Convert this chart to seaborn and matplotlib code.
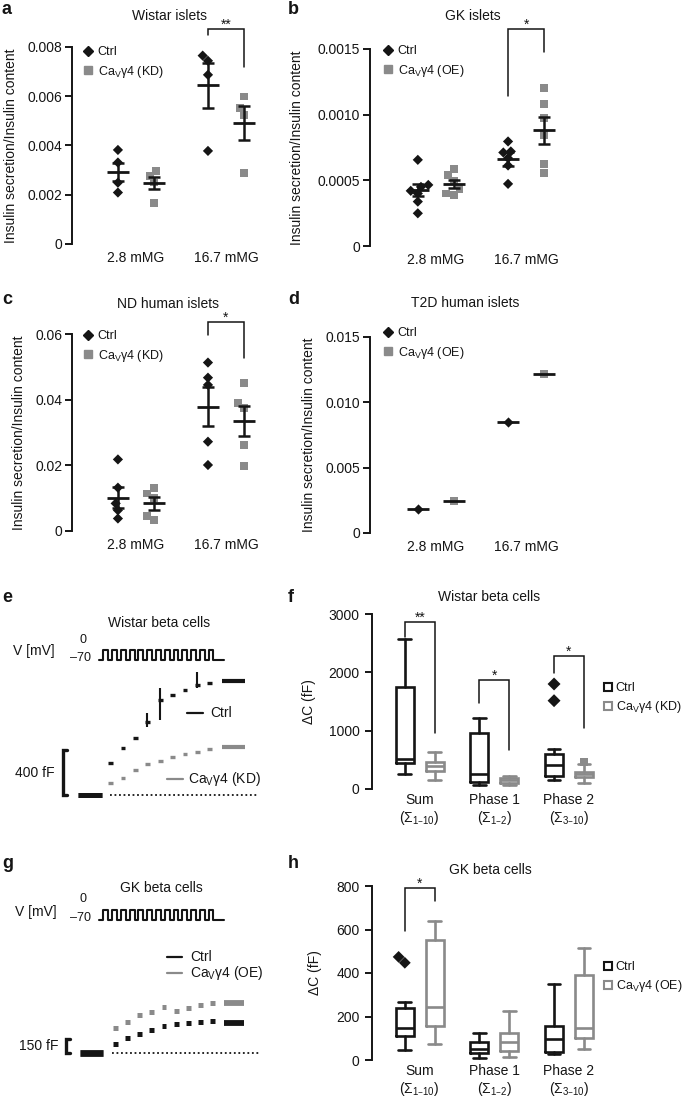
import numpy as np
import pandas as pd
import matplotlib
matplotlib.use('Agg')
import matplotlib.pyplot as plt
import seaborn as sns
from matplotlib.lines import Line2D

W, H = 685, 1101
BLACK = '#151515'
GRAY = '#8a8a8a'

# ---------------- data ----------------
glucose = ['2.8 mMG', '16.7 mMG']
groups = ['Ctrl', 'Ca']

# a: Wistar islets (Ctrl vs KD)
a_ctrl_low = [3.82e-3, 3.31e-3, 2.49e-3, 2.09e-3]
a_ctrl_high = [7.44e-3, 7.65e-3, 6.87e-3, 3.78e-3]
a_ca_low = [2.98e-3, 2.77e-3, 2.50e-3, 1.65e-3]
a_ca_high = [5.99e-3, 5.52e-3, 5.25e-3, 2.87e-3]
a_ctrl_mean, a_ctrl_sem = [2.93e-3, 6.44e-3], [0.37e-3, 0.90e-3]
a_ca_mean, a_ca_sem = [2.48e-3, 4.91e-3], [0.26e-3, 0.68e-3]

# b: GK islets (Ctrl vs OE)
b_ctrl_low = [0.656e-3, 0.465e-3, 0.45e-3, 0.42e-3, 0.40e-3, 0.338e-3, 0.249e-3]
b_ctrl_high = [0.796e-3, 0.72e-3, 0.712e-3, 0.669e-3, 0.613e-3, 0.473e-3]
b_ca_low = [0.587e-3, 0.541e-3, 0.498e-3, 0.432e-3, 0.40e-3, 0.389e-3]
b_ca_high = [1.203e-3, 1.08e-3, 0.974e-3, 0.847e-3, 0.623e-3, 0.554e-3]
b_ctrl_mean, b_ctrl_sem = [0.427e-3, 0.661e-3], [0.045e-3, 0.051e-3]
b_ca_mean, b_ca_sem = [0.473e-3, 0.880e-3], [0.032e-3, 0.105e-3]

# c: ND human islets (Ctrl vs KD)
c_ctrl_low = [0.0218, 0.0132, 0.0084, 0.0063, 0.0038]
c_ctrl_high = [0.0513, 0.0467, 0.0445, 0.0272, 0.0201]
c_ca_low = [0.0132, 0.0114, 0.0100, 0.0045, 0.0033]
c_ca_high = [0.0450, 0.0389, 0.0374, 0.0262, 0.0198]
c_ctrl_mean, c_ctrl_sem = [0.0102, 0.0379], [0.0031, 0.0060]
c_ca_mean, c_ca_sem = [0.0084, 0.0335], [0.0020, 0.0046]

# d: T2D human islets (Ctrl vs OE), single donor
d_ctrl_low, d_ctrl_high = [1.86e-3], [8.49e-3]
d_ca_low, d_ca_high = [2.45e-3], [12.19e-3]
d_ctrl_mean, d_ctrl_sem = [1.86e-3, 8.49e-3], [0, 0]
d_ca_mean, d_ca_sem = [2.45e-3, 12.19e-3], [0, 0]

# e / g: capacitance increase after each of the 10 depolarisations (fF)
e_ctrl_steps = [284, 418, 507, 649, 845, 889, 933, 978, 996, 1013]
e_kd_steps = [107, 151, 222, 276, 302, 338, 364, 382, 409, 427]
e_spike_pulse = [4, 5, 8]
e_spike_low = [605, 667, 952]
e_spike_high = [730, 952, 1095]
g_ctrl_steps = [96, 160, 203, 246, 289, 310, 320, 331, 342, 320]
g_oe_steps = [267, 331, 406, 438, 490, 450, 480, 513, 535, 535]
n_protocol_pulses = 13

# f / h: box plots, each row = [whislo, q1, median, q3, whishi]
phases = ['Sum', 'Phase 1', 'Phase 2']
phase_labels = ['Sum\n(Σ$_{1–10}$)', 'Phase 1\n(Σ$_{1–2}$)', 'Phase 2\n(Σ$_{3–10}$)']
f_ctrl_box = [[251, 440, 520, 1754, 2566], [69, 126, 251, 966, 1211], [154, 223, 411, 594, 680]]
f_kd_box = [[154, 309, 400, 457, 634], [69, 109, 154, 194, 229], [103, 206, 250, 291, 430]]
f_ctrl_out_phase, f_ctrl_out = ['Phase 2', 'Phase 2'], [1514, 1800]
f_kd_out_phase, f_kd_out = ['Phase 2'], [465]
h_ctrl_box = [[46, 112, 145, 240, 265], [11, 31, 49, 84, 122], [28, 38, 95, 157, 349]]
h_oe_box = [[73, 158, 242, 554, 639], [15, 43, 84, 125, 226], [49, 99, 148, 390, 517]]
h_ctrl_out_phase, h_ctrl_out = ['Sum', 'Sum'], [447, 474]

# ---------------- style ----------------
sns.set_theme(style='ticks')
plt.rcParams['font.family'] = ['Liberation Sans', 'DejaVu Sans']
plt.rcParams['mathtext.default'] = 'regular'
plt.rcParams['text.color'] = BLACK
plt.rcParams['axes.labelcolor'] = BLACK
plt.rcParams['xtick.color'] = BLACK
plt.rcParams['ytick.color'] = BLACK
plt.rcParams['axes.edgecolor'] = BLACK

fig = plt.figure(figsize=(W / 100, H / 100), dpi=100)


def add_ax(left, top, right, bottom):
    return fig.add_axes([left / W, 1 - bottom / H, (right - left) / W, (bottom - top) / H])


def ftext(x, y, s, **kw):
    fig.text(x / W, 1 - y / H, s, **kw)


def ca_label(kind):
    return 'Ca$_{V}$γ4 (' + kind + ')'


def style_left(ax, yticks, yticklabels, ylabel, label_x, pad=2):
    ax.set_ylim(yticks[0], yticks[-1])
    ax.set_yticks(yticks)
    ax.set_yticklabels(yticklabels)
    sns.despine(ax=ax, bottom=True)
    ax.spines['left'].set_linewidth(1.4)
    ax.tick_params(axis='y', length=5, width=1.4, pad=pad, labelsize=10)
    ax.tick_params(axis='x', length=0, pad=5, labelsize=10)
    ax.set_xlabel('')
    ax.set_ylabel(ylabel, fontsize=10)
    ax.yaxis.set_label_coords(label_x, 0.5)


def bracket(ax, x0, x1, top, left_bottom, right_bottom, stars):
    ax.plot([x0, x0, x1, x1], [left_bottom, top, top, right_bottom], color=BLACK,
            lw=1.1, clip_on=False, solid_joinstyle='miter')
    ax.text((x0 + x1) / 2, top, stars, ha='center', va='baseline', fontsize=10, clip_on=False)


def islet_panel(ax, ctrl_low, ctrl_high, ca_low, ca_high, ctrl_mean, ctrl_sem,
                ca_mean, ca_sem, kind, legend_xy):
    df = pd.DataFrame({
        'glucose': [glucose[0]] * len(ctrl_low) + [glucose[1]] * len(ctrl_high)
        + [glucose[0]] * len(ca_low) + [glucose[1]] * len(ca_high),
        'group': ['Ctrl'] * (len(ctrl_low) + len(ctrl_high)) + ['Ca'] * (len(ca_low) + len(ca_high)),
        'value': ctrl_low + ctrl_high + ca_low + ca_high,
    })
    for grp, marker, size in [('Ctrl', 'D', 5.2), ('Ca', 's', 5.6)]:
        sns.swarmplot(data=df[df['group'] == grp], x='glucose', y='value', hue='group',
                      order=glucose, hue_order=groups, dodge=True, marker=marker, size=size,
                      palette={'Ctrl': BLACK, 'Ca': GRAY}, legend=False, ax=ax, zorder=2)
    xs = np.arange(len(glucose))
    for off, m, s in [(-0.2, ctrl_mean, ctrl_sem), (0.2, ca_mean, ca_sem)]:
        if any(s):
            ax.errorbar(xs + off, m, yerr=s, fmt='none', ecolor=BLACK, elinewidth=1.8,
                        capsize=4.6, capthick=1.8, zorder=4)
        ax.plot(xs + off, m, ls='none', marker='_', ms=16, mew=2, color=BLACK, zorder=4)
    handles = [Line2D([], [], ls='none', marker='D', ms=5.2, color=BLACK),
               Line2D([], [], ls='none', marker='s', ms=5.6, color=GRAY)]
    ax.legend(handles, ['Ctrl', ca_label(kind)], loc='upper left',
              bbox_to_anchor=(legend_xy[0] / W, 1 - legend_xy[1] / H),
              bbox_transform=fig.transFigure, frameon=False, fontsize=9,
              handlelength=0.7, handletextpad=0.4, labelspacing=0.45,
              borderpad=0, borderaxespad=0)


# ---------------- panels a-d ----------------
ylab = 'Insulin secretion/Insulin content'

ax_a = add_ax(72, 47, 280, 244)
islet_panel(ax_a, a_ctrl_low, a_ctrl_high, a_ca_low, a_ca_high, a_ctrl_mean, a_ctrl_sem,
            a_ca_mean, a_ca_sem, 'KD', (84, 46))
ax_a.set_xlim(-0.71, 1.6)
style_left(ax_a, [0, 0.002, 0.004, 0.006, 0.008], ['0', '0.002', '0.004', '0.006', '0.008'],
           ylab, -0.26)
bracket(ax_a, 0.8, 1.2, 0.00873, 0.00849, 0.00719, '**')

ax_b = add_ax(370, 49, 610, 246)
islet_panel(ax_b, b_ctrl_low, b_ctrl_high, b_ca_low, b_ca_high, b_ctrl_mean, b_ctrl_sem,
            b_ca_mean, b_ca_sem, 'OE', (384, 45))
ax_b.set_xlim(-0.73, 1.93)
style_left(ax_b, [0, 0.0005, 0.001, 0.0015], ['0', '0.0005', '0.0010', '0.0015'], ylab, -0.275)
bracket(ax_b, 0.8, 1.2, 0.001652, 0.001142, 0.001477, '*')

ax_c = add_ax(72, 334, 280, 531)
islet_panel(ax_c, c_ctrl_low, c_ctrl_high, c_ca_low, c_ca_high, c_ctrl_mean, c_ctrl_sem,
            c_ca_mean, c_ca_sem, 'KD', (84, 330))
ax_c.set_xlim(-0.71, 1.6)
style_left(ax_c, [0, 0.02, 0.04, 0.06], ['0', '0.02', '0.04', '0.06'], ylab, -0.22)
bracket(ax_c, 0.8, 1.2, 0.06365, 0.0597, 0.0527, '*')

ax_d = add_ax(370, 337, 610, 533)
islet_panel(ax_d, d_ctrl_low, d_ctrl_high, d_ca_low, d_ca_high, d_ctrl_mean, d_ctrl_sem,
            d_ca_mean, d_ca_sem, 'OE', (384, 327))
ax_d.set_xlim(-0.73, 1.93)
style_left(ax_d, [0, 0.005, 0.010, 0.015], ['0', '0.005', '0.010', '0.015'], ylab, -0.225)

ftext(169, 16, 'Wistar islets', ha='center', va='center', fontsize=10)
ftext(473, 16, 'GK islets', ha='center', va='center', fontsize=10)
ftext(168, 304, 'ND human islets', ha='center', va='center', fontsize=10)
ftext(465, 303, 'T2D human islets', ha='center', va='center', fontsize=10)


# ---------------- panels e, g (capacitance traces) ----------------
def draw_protocol(ax):
    t, v = [0.0], [-70]
    on = 0.0
    for k in range(n_protocol_pulses):
        on = 0.5 + k
        t += [on, on, on + 0.55, on + 0.55]
        v += [-70, 0, 0, -70]
    t.append(on + 0.55 + 1.2)
    v.append(-70)
    ax.plot(t, v, color=BLACK, lw=1.5, clip_on=False)
    ax.set_xlim(0, t[-1])
    ax.set_ylim(-70, 0)
    ax.axis('off')


def draw_trace(ax, steps, color, lw, t_final, base_t):
    t_pulse = np.arange(len(steps) - 1)
    ax.hlines(steps[:-1], t_pulse - 0.15, t_pulse + 0.25, color=color, lw=lw)
    ax.hlines(steps[-1], len(steps) - 1, t_final, color=color, lw=lw + 0.6)
    ax.hlines(0, base_t[0], base_t[1], color=color, lw=lw + 1.2)


def scale_bar(ax, t, height, label, label_t):
    ax.plot([t + 0.35, t, t, t + 0.35], [0, 0, height, height], color=BLACK, lw=2.4,
            clip_on=False, solid_joinstyle='miter')
    ax.text(label_t, height / 2, label, ha='right', va='center', fontsize=10)


# e
ax_ep = add_ax(99, 650, 224, 660)
draw_protocol(ax_ep)
ax_e = add_ax(60, 640, 265, 800)
draw_trace(ax_e, e_kd_steps, GRAY, 2.4, 10.9, (-2.6, -0.65))
draw_trace(ax_e, e_ctrl_steps, BLACK, 2.4, 10.9, (-2.6, -0.65))
ax_e.vlines(np.array(e_spike_pulse) - 1, e_spike_low, e_spike_high, color=BLACK, lw=1.5)
ax_e.hlines(0, 0, 11.9, color=BLACK, lw=1.3, linestyles=(0, (1, 1.5)))
scale_bar(ax_e, -3.79, 400, '400 fF', -4.45)
ax_e.plot([6.2, 7.5], [730, 730], color=BLACK, lw=1.6)
ax_e.text(8.05, 730, 'Ctrl', va='center', fontsize=10)
ax_e.plot([4.6, 5.9], [142, 142], color=GRAY, lw=1.6)
ax_e.text(6.3, 142, ca_label('KD'), va='center', fontsize=10)
ax_e.set_xlim(-4.03, 12.5)
ax_e.set_ylim(-44, 1380)
ax_e.axis('off')
ftext(159, 623, 'Wistar beta cells', ha='center', va='center', fontsize=10)
ftext(55, 651, 'V [mV]', ha='right', va='center', fontsize=10)
ftext(83, 640, '0', ha='center', va='center', fontsize=9)
ftext(91, 658, '–70', ha='right', va='center', fontsize=9)

# g
ax_gp = add_ax(99, 910, 224, 920)
draw_protocol(ax_gp)
ax_g = add_ax(60, 930, 265, 1060)
draw_trace(ax_g, g_oe_steps, GRAY, 3.6, 10.7, (-2.9, -1.0))
draw_trace(ax_g, g_ctrl_steps, BLACK, 3.6, 10.7, (-2.9, -1.0))
ax_g.hlines(0, -0.25, 12.0, color=BLACK, lw=1.3, linestyles=(0, (1, 1.5)))
scale_bar(ax_g, -4.05, 150, '150 fF', -4.7)
ax_g.plot([4.3, 5.5], [1027, 1027], color=BLACK, lw=1.6)
ax_g.text(6.2, 1027, 'Ctrl', va='center', fontsize=10)
ax_g.plot([4.3, 5.5], [856, 856], color=GRAY, lw=1.6)
ax_g.text(6.2, 856, ca_label('OE'), va='center', fontsize=10)
ax_g.set_xlim(-4.55, 12.4)
ax_g.set_ylim(-75, 1316)
ax_g.axis('off')
ftext(161, 888, 'GK beta cells', ha='center', va='center', fontsize=10)
ftext(57, 912, 'V [mV]', ha='right', va='center', fontsize=10)
ftext(83, 899, '0', ha='center', va='center', fontsize=9)
ftext(91, 918, '–70', ha='right', va='center', fontsize=9)


# ---------------- panels f, h (box plots) ----------------
def box_panel(ax, ctrl_box, ca_box, outliers, kind, legend_y, ylabel_x, yticks):
    for grp, out_phase, out_vals, marker, size in outliers:
        odf = pd.DataFrame({'phase': out_phase, 'group': grp, 'value': out_vals})
        sns.swarmplot(data=odf, x='phase', y='value', hue='group', order=phases,
                      hue_order=groups, dodge=True, marker=marker, size=size,
                      palette={'Ctrl': BLACK, 'Ca': GRAY}, legend=False, ax=ax, zorder=3)
    for off, box, color in [(-0.2, ctrl_box, BLACK), (0.2, ca_box, GRAY)]:
        stats = [dict(whislo=b[0], q1=b[1], med=b[2], q3=b[3], whishi=b[4], fliers=[])
                 for b in box]
        props = dict(color=color, linewidth=1.9, solid_joinstyle='miter')
        ax.bxp(stats, positions=np.arange(len(phases)) + off, widths=0.24, capwidths=0.17,
               showfliers=False, manage_ticks=False, boxprops=props, whiskerprops=props,
               capprops=props, medianprops=props)
    ax.set_xticks(np.arange(len(phases)))
    ax.set_xticklabels(phase_labels, linespacing=1.15)
    ax.set_xlim(-0.64, 2.55)
    style_left(ax, yticks, [str(v) for v in yticks], 'ΔC (fF)', ylabel_x, pad=4)
    ax.tick_params(axis='x', pad=3)
    handles = [Line2D([], [], ls='none', marker='s', ms=6, mfc='white', mec=BLACK, mew=1.5),
               Line2D([], [], ls='none', marker='s', ms=6, mfc='white', mec=GRAY, mew=1.5)]
    ax.legend(handles, ['Ctrl', ca_label(kind)], loc='upper left',
              bbox_to_anchor=(604 / W, 1 - legend_y / H), bbox_transform=fig.transFigure,
              frameon=False, fontsize=9, handlelength=0.6, handletextpad=0.35,
              labelspacing=0.4, borderpad=0, borderaxespad=0)


ax_f = add_ax(372, 614, 610, 789)
box_panel(ax_f, f_ctrl_box, f_kd_box,
          [('Ctrl', f_ctrl_out_phase, f_ctrl_out, 'D', 6.6), ('Ca', f_kd_out_phase, f_kd_out, 's', 5.2)],
          'KD', 682, -0.235, [0, 1000, 2000, 3000])
bracket(ax_f, -0.2, 0.2, 2863, 2606, 960, '**')
bracket(ax_f, 0.8, 1.2, 1868, 1474, 668, '*')
bracket(ax_f, 1.8, 2.2, 2280, 1988, 1046, '*')
ftext(489, 597, 'Wistar beta cells', ha='center', va='center', fontsize=10)

ax_h = add_ax(372, 886, 610, 1060)
box_panel(ax_h, h_ctrl_box, h_oe_box, [('Ctrl', h_ctrl_out_phase, h_ctrl_out, 'D', 6.0)],
          'OE', 961, -0.21, [0, 200, 400, 600, 800])
bracket(ax_h, -0.2, 0.2, 791, 593, 731, '*')
ftext(490, 870, 'GK beta cells', ha='center', va='center', fontsize=10)

# panel letters
for letter, x, y in [('a', 2, 10), ('b', 288, 10), ('c', 2, 300), ('d', 288, 300),
                     ('e', 2, 597), ('f', 288, 597), ('g', 2, 864), ('h', 288, 864)]:
    ftext(x, y, letter, fontsize=13, fontweight='bold', va='center', ha='left')

fig.savefig('out.png', dpi=100)
